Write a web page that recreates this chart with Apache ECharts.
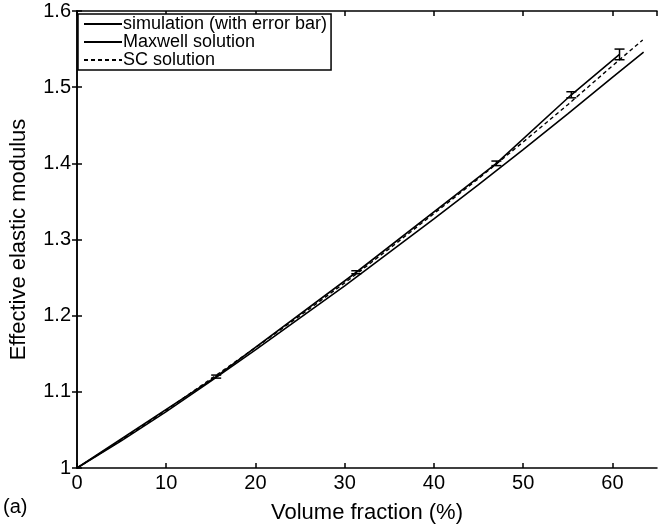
<!DOCTYPE html>
<html>
<head>
<meta charset="utf-8">
<script src="https://cdn.jsdelivr.net/npm/echarts@6/dist/echarts.min.js"></script>
<style>html,body{margin:0;padding:0;background:#fff}#c{width:669px;height:532px}</style>
</head>
<body>
<div id="c"></div>
<script>
// Simulation (with error bar): [volume fraction %, modulus]
var simX = [0, 15.6, 31.3, 47.0, 55.4, 60.8];
var simY = [1.0, 1.120, 1.257, 1.400, 1.490, 1.543];
var simErr = [0, 0.002, 0.002, 0.003, 0.004, 0.007];
// Maxwell solution
var maxX = [0, 5, 10, 15, 20, 25, 30, 35, 40, 45, 50, 55, 60, 63.5];
var maxY = [1.0, 1.036, 1.074, 1.114, 1.155, 1.197, 1.239, 1.283, 1.327, 1.372, 1.418, 1.465, 1.513, 1.546];
// SC solution
var scX = [0, 5, 10, 15, 20, 25, 30, 35, 40, 45, 50, 55, 60, 63.4];
var scY = [1.0, 1.037, 1.076, 1.117, 1.158, 1.200, 1.243, 1.288, 1.334, 1.380, 1.428, 1.477, 1.528, 1.562];
var xTicks = {min: 0, max: 65, interval: 10};
var yTicks = {min: 1, max: 1.6, interval: 0.1};

function zip(a, b) { return a.map(function (v, i) { return [v, b[i]]; }); }
var errData = simX.map(function (x, i) { return [x, simY[i] - simErr[i], simY[i] + simErr[i]]; }).filter(function (d, i) { return simErr[i] > 0; });

var FONT = 'Liberation Sans';
var chart = echarts.init(document.getElementById('c'), null, {renderer: 'canvas'});
var axisLineStyle = {color: '#000', width: 1.5};
var tickStyle = {show: true, inside: true, length: 5, lineStyle: {color: '#000', width: 1.5}};
chart.setOption({
  animation: false,
  backgroundColor: '#fff',
  textStyle: {fontFamily: FONT, color: '#000'},
  grid: {left: 75, right: 12, top: 11, bottom: 64, containLabel: false},
  legend: {
    left: 78, top: 14, orient: 'vertical', itemWidth: 38, itemHeight: 10, itemGap: 0,
    padding: [1, 4, 1, 5], borderColor: '#000', borderWidth: 1.5, backgroundColor: '#fff',
    itemStyle: {color: 'transparent', borderWidth: 0, opacity: 0},
    textStyle: {fontFamily: FONT, fontSize: 18, lineHeight: 18, color: '#000', padding: [0, 0, 0, -4]},
    data: ['simulation (with error bar)', 'Maxwell solution', 'SC solution']
  },
  xAxis: [{
    type: 'value', min: xTicks.min, max: xTicks.max, interval: xTicks.interval,
    name: 'Volume fraction (%)', nameLocation: 'middle', nameGap: 34,
    nameTextStyle: {fontFamily: FONT, fontSize: 22, color: '#000'},
    axisLine: {show: true, lineStyle: axisLineStyle},
    axisTick: tickStyle,
    axisLabel: {fontFamily: FONT, fontSize: 20, color: '#000', margin: 5, showMaxLabel: false},
    splitLine: {show: false}
  }, {
    type: 'value', position: 'top', min: xTicks.min, max: xTicks.max, interval: xTicks.interval,
    axisLine: {show: true, lineStyle: axisLineStyle},
    axisTick: tickStyle,
    axisLabel: {show: false}, splitLine: {show: false}
  }],
  yAxis: [{
    type: 'value', min: yTicks.min, max: yTicks.max, interval: yTicks.interval,
    name: 'Effective elastic modulus', nameLocation: 'middle', nameGap: 47, nameRotate: 90,
    nameTextStyle: {fontFamily: FONT, fontSize: 22, color: '#000'},
    axisLine: {show: true, lineStyle: axisLineStyle},
    axisTick: tickStyle,
    axisLabel: {fontFamily: FONT, fontSize: 20, color: '#000', margin: 6},
    splitLine: {show: false}
  }, {
    type: 'value', position: 'right', min: yTicks.min, max: yTicks.max, interval: yTicks.interval,
    axisLine: {show: true, lineStyle: axisLineStyle},
    axisTick: tickStyle,
    axisLabel: {show: false}, splitLine: {show: false}
  }],
  graphic: [{
    type: 'text', left: 3, top: 497,
    style: {text: '(a)', font: '20px "Liberation Sans"', fill: '#000'}
  }],
  series: [{
    name: 'simulation (with error bar)', type: 'line', data: zip(simX, simY), symbol: 'none',
    lineStyle: {color: '#000', width: 1.6}, itemStyle: {color: '#000'}, z: 3
  }, {
    name: 'Maxwell solution', type: 'line', data: zip(maxX, maxY), symbol: 'none',
    lineStyle: {color: '#000', width: 1.6}, itemStyle: {color: '#000'}, z: 2
  }, {
    name: 'SC solution', type: 'line', data: zip(scX, scY), symbol: 'none',
    lineStyle: {color: '#000', width: 1.4, type: [4, 3]}, itemStyle: {color: '#000'}, z: 2
  }, {
    name: 'error', type: 'custom', data: errData, z: 4,
    renderItem: function (params, api) {
      var lo = api.coord([api.value(0), api.value(1)]);
      var hi = api.coord([api.value(0), api.value(2)]);
      var w = 5;
      var st = {stroke: '#000', lineWidth: 1.5};
      return {type: 'group', children: [
        {type: 'line', shape: {x1: lo[0], y1: lo[1], x2: hi[0], y2: hi[1]}, style: st},
        {type: 'line', shape: {x1: lo[0] - w, y1: lo[1], x2: lo[0] + w, y2: lo[1]}, style: st},
        {type: 'line', shape: {x1: hi[0] - w, y1: hi[1], x2: hi[0] + w, y2: hi[1]}, style: st}
      ]};
    }
  }]
});
</script>
</body>
</html>
